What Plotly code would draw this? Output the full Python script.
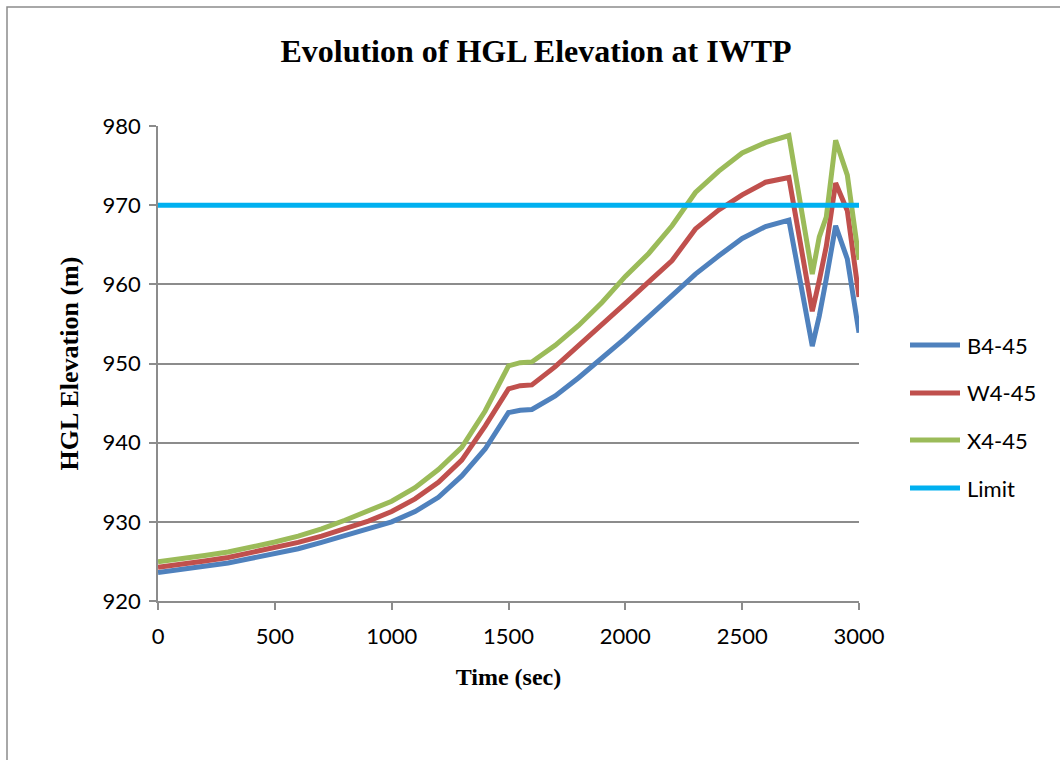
import plotly.graph_objects as go

# Simulation time (s)
time_s = [0, 100, 200, 300, 400, 500, 600, 700, 800, 900, 1000, 1100, 1200,
          1300, 1400, 1500, 1550, 1600, 1700, 1800, 1900, 2000, 2100, 2200,
          2300, 2400, 2500, 2600, 2700, 2800, 2830, 2860, 2900, 2950, 3000]

# HGL elevation (m) for each scenario
b4_45 = [923.6, 923.95, 924.35, 924.8, 925.4, 925.95, 926.6, 927.4, 928.3, 929.1,
         930.0, 931.3, 933.1, 935.8, 939.2, 943.8, 944.1, 944.2, 945.9, 948.2,
         950.6, 953.2, 955.9, 958.5, 961.3, 963.6, 965.8, 967.3, 968.1, 952.2,
         956.0, 960.7, 967.4, 963.2, 953.9]
w4_45 = [924.25, 924.6, 925.05, 925.5, 926.1, 926.7, 927.4, 928.2, 929.1, 930.1,
         931.3, 932.9, 935.0, 937.8, 942.1, 946.8, 947.2, 947.3, 949.6, 952.2,
         954.9, 957.6, 960.3, 963.0, 967.0, 969.4, 971.3, 972.9, 973.5, 956.6,
         960.5, 964.8, 972.8, 969.3, 958.4]
x4_45 = [924.95, 925.3, 925.75, 926.2, 926.8, 927.45, 928.2, 929.1, 930.2, 931.35,
         932.6, 934.3, 936.6, 939.4, 944.0, 949.7, 950.1, 950.2, 952.3, 954.8,
         957.7, 961.0, 963.9, 967.4, 971.6, 974.3, 976.6, 977.9, 978.8, 961.3,
         966.0, 968.5, 978.2, 973.8, 963.1]

# Design limit
limit_time = [0, 3000]
limit_hgl = [970, 970]

series_names = ["B4-45", "W4-45", "X4-45", "Limit"]
series_colors = ["#4F81BD", "#C0504D", "#9BBB59", "#00B0F0"]

x_ticks = [0, 500, 1000, 1500, 2000, 2500, 3000]
y_ticks = [920, 930, 940, 950, 960, 970, 980]

fig = go.Figure()
for name, xs, ys, col in zip(series_names,
                             [time_s, time_s, time_s, limit_time],
                             [b4_45, w4_45, x4_45, limit_hgl],
                             series_colors):
    fig.add_trace(go.Scatter(x=xs, y=ys, mode="lines", name=name,
                             line=dict(color=col, width=5),
                             showlegend=False))

grid_col = "#8C8C8C"
sans = "Lato, Liberation Sans, sans-serif"
serif = "Liberation Serif, Times New Roman, serif"
tick_font = dict(family=sans, size=22, color="#000000")
fig.update_xaxes(range=[0, 3000], tickvals=x_ticks, showgrid=False,
                 showline=True, linecolor=grid_col, linewidth=1.5,
                 ticks="outside", ticklen=7, tickcolor=grid_col, tickwidth=1.5,
                 tickfont=tick_font, zeroline=False, ticklabelstandoff=8,
                 title=dict(text="<b>Time (sec)</b>", standoff=20,
                            font=dict(family=serif, size=24, color="#000000")))
fig.update_yaxes(range=[920, 980], tickvals=y_ticks, showgrid=True,
                 gridcolor=grid_col, gridwidth=1.5,
                 showline=True, linecolor=grid_col, linewidth=1.5,
                 ticks="outside", ticklen=7, tickcolor=grid_col, tickwidth=1.5,
                 tickfont=tick_font, zeroline=False, ticklabelstandoff=4,
                 title=dict(text="<b>HGL Elevation (m)</b>", standoff=16,
                            font=dict(family=serif, size=26, color="#000000")))

# Legend drawn as line samples with labels on the right
plot_l, plot_r, plot_t, plot_b = 158, 859, 126, 601
pw, ph = plot_r - plot_l, plot_b - plot_t


def px_x(px):
    return (px - plot_l) / pw


def px_y(py):
    return (plot_b - py) / ph


legend_rows = [345, 393, 440, 488]
shapes = []
annotations = []
for name, col, ry in zip(series_names, series_colors, legend_rows):
    shapes.append(dict(type="line", xref="paper", yref="paper",
                       x0=px_x(910), x1=px_x(960), y0=px_y(ry), y1=px_y(ry),
                       line=dict(color=col, width=5)))
    annotations.append(dict(xref="paper", yref="paper", x=px_x(965), y=px_y(ry),
                            text=name, showarrow=False, xanchor="left",
                            yanchor="middle",
                            font=dict(family=sans, size=22, color="#000000")))

# Chart frame
shapes.append(dict(type="rect", xref="paper", yref="paper", layer="below",
                   x0=px_x(7), x1=px_x(1070), y0=px_y(7), y1=px_y(770),
                   line=dict(color="#8C8C8C", width=1.5), fillcolor="rgba(0,0,0,0)"))

fig.update_layout(
    width=1060, height=760,
    margin=dict(l=plot_l, r=1060 - plot_r, t=plot_t, b=760 - plot_b),
    paper_bgcolor="white", plot_bgcolor="white",
    title=dict(text="<b>Evolution of HGL Elevation at IWTP</b>",
               x=536 / 1060, xref="container", xanchor="center",
               y=1 - 51 / 760, yanchor="middle",
               font=dict(family=serif, size=32, color="#000000")),
    shapes=shapes, annotations=annotations,
)

fig.write_html("out.html")
